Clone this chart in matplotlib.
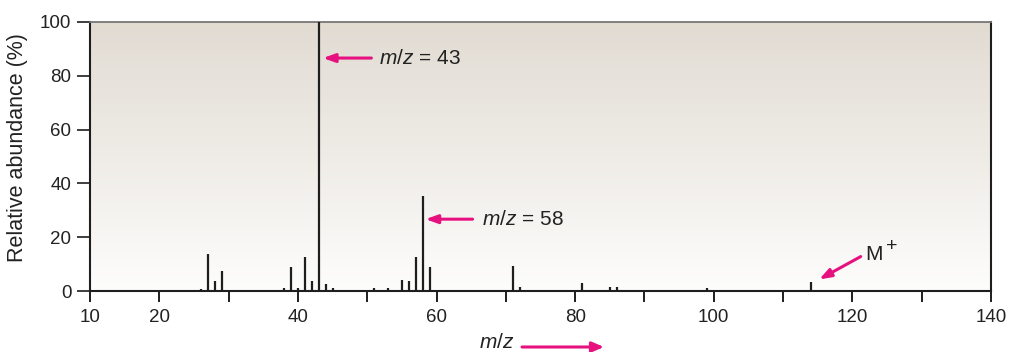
import numpy as np
import matplotlib
matplotlib.use("Agg")
import matplotlib.pyplot as plt
from matplotlib.colors import LinearSegmentedColormap
from matplotlib.patches import FancyArrowPatch

plt.rcParams['font.family'] = ['Liberation Sans', 'DejaVu Sans']
plt.rcParams['mathtext.fontset'] = 'custom'
plt.rcParams['mathtext.rm'] = 'Liberation Sans'
plt.rcParams['mathtext.it'] = 'Liberation Sans:italic'

# Mass spectrum data (m/z, relative abundance %)
mz = [26, 27, 28, 29, 38, 39, 40, 41, 42, 43, 44, 45,
      51, 53, 55, 56, 57, 58, 59, 71, 72, 81, 85, 86, 99, 114]
abundance = [0.9, 13.8, 3.7, 7.4, 1.0, 8.8, 1.0, 12.6, 3.7, 100, 2.6, 1.2,
             1.0, 1.1, 4.0, 3.7, 12.6, 35.3, 9.0, 9.2, 1.4, 2.8, 1.4, 1.4, 1.0, 3.5]

xticks = [10, 20, 30, 40, 50, 60, 70, 80, 90, 100, 110, 120, 130, 140]
xticklabels = ['10', '20', '', '40', '', '60', '', '80', '', '100', '', '120', '', '140']
yticks = [0, 20, 40, 60, 80, 100]

magenta = '#e6117f'
dark = '#1e1e1e'
txt = '#222222'

W, H = 1011, 352
fig = plt.figure(figsize=(W / 100, H / 100), dpi=100)
ax = fig.add_axes([90 / W, 61 / H, 901 / W, 269 / H])
ax.set_xlim(10, 140)
ax.set_ylim(0, 100)

# gradient background
cmap = LinearSegmentedColormap.from_list('bg', ['#fdfdfc', '#e1dbd2'])
grad = np.linspace(0, 1, 256).reshape(-1, 1)
ax.imshow(grad, extent=[10, 140, 0, 100], origin='lower', aspect='auto',
          cmap=cmap, zorder=0)

ax.vlines(mz, 0, abundance, color=dark, linewidth=1.6, zorder=3)

ax.set_xticks(xticks)
ax.set_xticklabels(xticklabels)
ax.set_yticks(yticks)
ax.tick_params(axis='x', direction='out', length=8, width=1.4, color=dark,
               labelsize=13.5, pad=5, labelcolor=txt)
ax.tick_params(axis='y', direction='out', length=9.5, width=1.2, color=dark,
               labelsize=13.5, pad=4, labelcolor=txt)

for side in ['left', 'bottom', 'right']:
    ax.spines[side].set_color(dark)
    ax.spines[side].set_linewidth(1.5)
ax.spines['top'].set_color('#777777')
ax.spines['top'].set_linewidth(1.3)

ax.set_ylabel('Relative abundance (%)', fontsize=15.5, color=txt)
ax.yaxis.set_label_coords(-0.080, 0.533)
ax.yaxis.label.set_va('center')

ann_fs = 15
astyle = '-|>,head_length=0.7,head_width=0.25'

ax.annotate('', xy=(43.6, 86.6), xytext=(50.6, 86.6),
            arrowprops=dict(arrowstyle=astyle, color=magenta, lw=2.2,
                            shrinkA=0, shrinkB=0), zorder=5)
ax.text(51.7, 86.6, r'$m/z$ = 43', fontsize=ann_fs, va='center', ha='left', color=txt)

ax.annotate('', xy=(58.4, 26.7), xytext=(65.2, 26.7),
            arrowprops=dict(arrowstyle=astyle, color=magenta, lw=2.2,
                            shrinkA=0, shrinkB=0), zorder=5)
ax.text(66.5, 26.7, r'$m/z$ = 58', fontsize=ann_fs, va='center', ha='left', color=txt)

ax.annotate('', xy=(115.2, 4.3), xytext=(121.2, 12.8),
            arrowprops=dict(arrowstyle=astyle, color=magenta, lw=2.2,
                            shrinkA=0, shrinkB=0), zorder=5)
ax.text(121.9, 13.6, 'M', fontsize=15, va='center', ha='left', color=txt)
ax.text(124.8, 16.6, '+', fontsize=14, va='center', ha='left', color=txt)

# x-axis label with arrow
fig.text(497 / W, 1 - 343 / H, r'$m/z$', fontsize=15, ha='center', va='center', color=txt)
fig.add_artist(FancyArrowPatch(
    (522 / W, 1 - 347 / H), (604 / W, 1 - 347 / H), transform=fig.transFigure,
    arrowstyle='-|>,head_length=7,head_width=3', color=magenta, lw=2.2,
    shrinkA=0, shrinkB=0))

fig.savefig('out.png', dpi=100)
